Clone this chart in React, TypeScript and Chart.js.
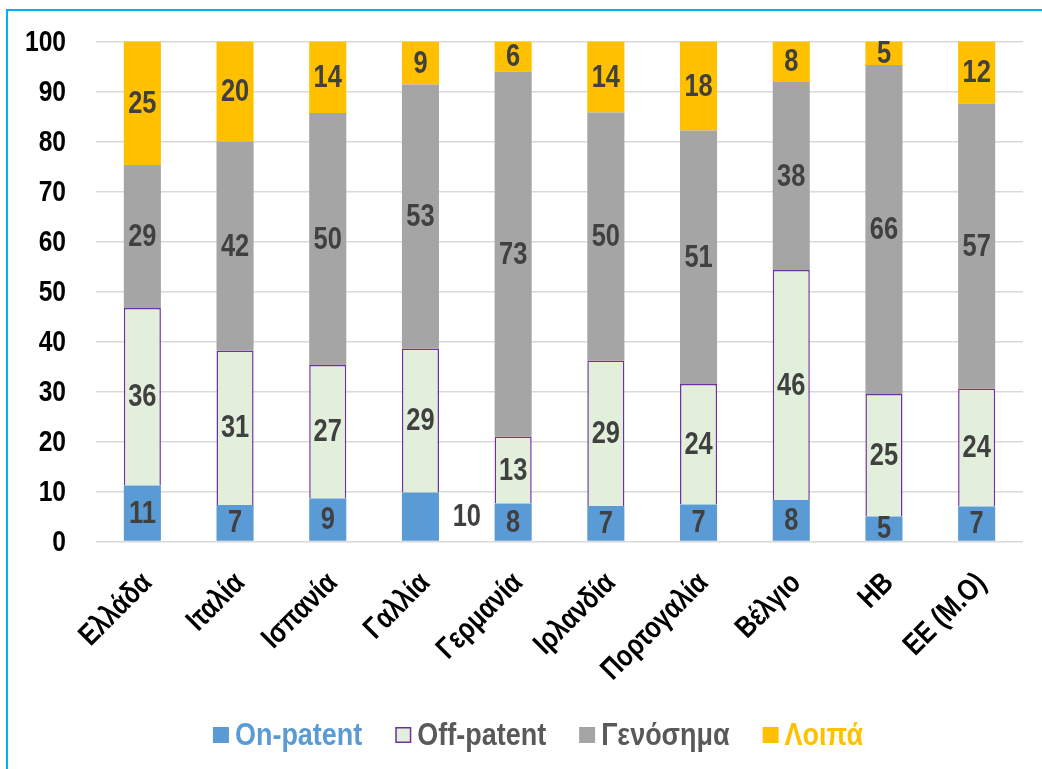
import React, { useEffect, useRef } from "react";
import { Chart, registerables } from "chart.js";

Chart.register(...registerables);

const categories = ["Ελλάδα", "Ιταλία", "Ισπανία", "Γαλλία", "Γερμανία", "Ιρλανδία", "Πορτογαλία", "Βέλγιο", "ΗΒ", "ΕΕ (Μ.Ο)"];
const onPatent = [11.2, 7.3, 8.6, 9.8, 7.6, 7.1, 7.4, 8.3, 5.0, 7.0];
const offPatent = [35.5, 30.9, 26.7, 28.8, 13.4, 29.1, 24.1, 46.0, 24.5, 23.6];
const generics = [28.6, 41.8, 50.4, 52.8, 73.0, 49.6, 50.7, 37.6, 65.8, 57.0];
const others = [24.7, 20.0, 14.3, 8.6, 6.0, 14.2, 17.8, 8.1, 4.7, 12.4];
const seriesNames = ["On-patent", "Off-patent", "Γενόσημα", "Λοιπά"];
const yMin = 0;
const yMax = 100;
const yStep = 10;

// the one data label that Excel placed beside its bar (Γαλλία, On-patent)
const outsideLabel = { dataset: 0, index: 3 };

const FAMILY = "'Liberation Sans', Arial, sans-serif";
// the reference uses a narrow face (Arial Narrow); emulate with horizontal squeeze
const NARROW = 0.82;

function drawNarrow(
  ctx: CanvasRenderingContext2D,
  text: string,
  x: number,
  y: number,
  opts: { font: string; color: string; align: CanvasTextAlign; angle?: number; sx?: number }
) {
  ctx.save();
  ctx.translate(x, y);
  if (opts.angle) ctx.rotate(opts.angle);
  ctx.scale(opts.sx ?? NARROW, 1);
  ctx.font = opts.font;
  ctx.fillStyle = opts.color;
  ctx.textAlign = opts.align;
  ctx.textBaseline = "middle";
  ctx.fillText(text, 0, 0);
  ctx.restore();
}

const textPlugin = {
  id: "narrowTexts",
  afterDraw(chart: any) {
    const ctx: CanvasRenderingContext2D = chart.ctx;
    const xs = chart.scales.x;
    const ys = chart.scales.y;
    const area = chart.chartArea;

    // y tick labels
    ys.ticks.forEach((t: any) => {
      drawNarrow(ctx, String(t.value), area.left - 30, ys.getPixelForValue(t.value) + 1, {
        font: `bold 30px ${FAMILY}`,
        color: "#000",
        align: "right",
      });
    });

    // x category labels, rotated 45°
    chart.data.labels.forEach((lab: string, i: number) => {
      drawNarrow(ctx, lab, xs.getPixelForValue(i) + 5, area.bottom + 37, {
        font: `bold 30px ${FAMILY}`,
        color: "#000",
        align: "right",
        angle: -Math.PI / 4,
      });
    });

    // segment data labels
    chart.data.datasets.forEach((ds: any, di: number) => {
      const meta = chart.getDatasetMeta(di);
      meta.data.forEach((bar: any, i: number) => {
        let x = bar.x;
        const y = (bar.y + bar.base) / 2 + 1;
        if (di === outsideLabel.dataset && i === outsideLabel.index) {
          x = (xs.getPixelForValue(i) + xs.getPixelForValue(i + 1)) / 2;
        }
        drawNarrow(ctx, String(Math.round(ds.data[i])), x, y, {
          font: `bold 31px ${FAMILY}`,
          color: "#404040",
          align: "center",
        });
      });
    });

    // legend
    const legendFont = `bold 31px ${FAMILY}`;
    const sx = 0.87;
    const box = 16;
    const gap = 6;
    const spacing = 33;
    const colors = ["#5B9BD5", "#595959", "#595959", "#FFC000"];
    ctx.save();
    ctx.font = legendFont;
    const widths = chart.data.datasets.map((d: any) => ctx.measureText(d.label).width * sx);
    ctx.restore();
    const total = widths.reduce((a: number, w: number) => a + box + gap + w, 0) + spacing * (widths.length - 1);
    let lx = 538 - total / 2;
    const ly = 735;
    chart.data.datasets.forEach((ds: any, i: number) => {
      ctx.save();
      ctx.fillStyle = ds.backgroundColor;
      ctx.fillRect(lx, ly - box / 2, box, box);
      if (ds.borderWidth) {
        ctx.strokeStyle = ds.borderColor;
        ctx.lineWidth = 1.5;
        ctx.strokeRect(lx + 0.75, ly - box / 2 + 0.75, box - 1.5, box - 1.5);
      }
      ctx.restore();
      drawNarrow(ctx, ds.label, lx + box + gap, ly + 1, {
        font: legendFont,
        color: colors[i],
        align: "left",
        sx,
      });
      lx += box + gap + widths[i] + spacing;
    });
  },
};

export default function App() {
  const ref = useRef<HTMLCanvasElement | null>(null);
  useEffect(() => {
    if (!ref.current) return;
    const chart = new Chart(ref.current, {
      type: "bar",
      data: {
        labels: categories,
        datasets: [
          { label: seriesNames[0], data: onPatent, backgroundColor: "#5B9BD5", borderWidth: 0 },
          { label: seriesNames[1], data: offPatent, backgroundColor: "#E2EFDA", borderColor: "#7030A0", borderWidth: 1.5 },
          { label: seriesNames[2], data: generics, backgroundColor: "#A5A5A5", borderWidth: 0 },
          { label: seriesNames[3], data: others, backgroundColor: "#FFC000", borderWidth: 0 },
        ],
      },
      options: {
        responsive: false,
        animation: false,
        devicePixelRatio: 1,
        layout: { padding: { left: 10, right: 19, top: 41.5, bottom: 77.5 } },
        datasets: { bar: { barPercentage: 0.4, categoryPercentage: 1 } },
        scales: {
          x: {
            stacked: true,
            grid: { display: false, drawTicks: false },
            border: { display: false },
            ticks: { display: false },
            afterFit: (s: any) => {
              s.height = 150;
            },
          },
          y: {
            stacked: true,
            min: yMin,
            max: yMax,
            grid: { color: "#D9D9D9", lineWidth: 1.5, drawTicks: false },
            border: { display: false },
            ticks: { display: false, stepSize: yStep },
            afterFit: (s: any) => {
              s.width = 86;
            },
          },
        },
        plugins: {
          legend: { display: false },
          tooltip: { enabled: false },
          title: { display: false },
        },
      },
      plugins: [textPlugin],
    });
    return () => chart.destroy();
  }, []);

  return (
    <div style={{ position: "fixed", left: 0, top: 0, width: 1042, height: 769, background: "#fff", overflow: "hidden" }}>
      <div
        style={{
          position: "absolute",
          left: 6,
          top: 9,
          width: 1100,
          height: 800,
          borderTop: "2px solid #00B0F0",
          borderLeft: "2px solid #00B0F0",
        }}
      />
      <canvas ref={ref} width={1042} height={769} style={{ position: "absolute", left: 0, top: 0 }} />
    </div>
  );
}
